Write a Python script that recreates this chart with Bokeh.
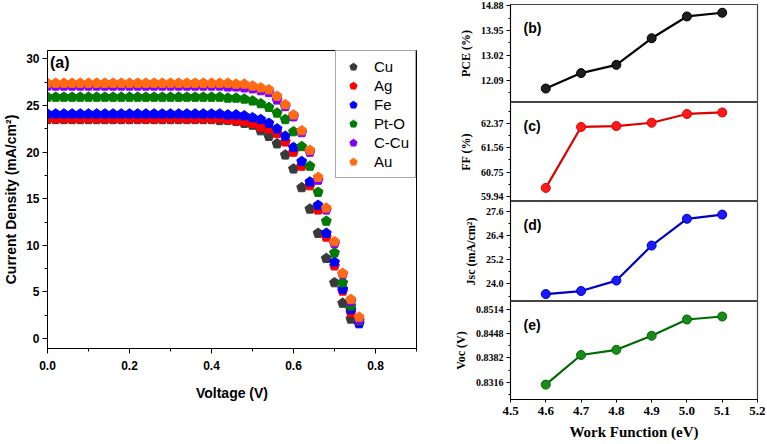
from bokeh.plotting import figure
from bokeh.layouts import row, column
from bokeh.models import (FixedTicker, PrintfTickFormatter, Label, Range1d,
                          SingleIntervalTicker, Legend, LegendItem)
from bokeh.embed import file_html
from bokeh.resources import INLINE

# ---------------- data: J-V curves (panel a) ----------------
voltage = [0.00, 0.02, 0.04, 0.06, 0.08, 0.10, 0.12, 0.14, 0.16, 0.18,
           0.20, 0.22, 0.24, 0.26, 0.28, 0.30, 0.32, 0.34, 0.36, 0.38,
           0.40, 0.42, 0.44, 0.46, 0.48, 0.50, 0.52, 0.54, 0.56, 0.58,
           0.60, 0.62, 0.64, 0.66, 0.68, 0.70, 0.72, 0.74, 0.76]

j_cu = [23.5, 23.5, 23.5, 23.5, 23.5, 23.5, 23.5, 23.5, 23.5, 23.5,
        23.5, 23.5, 23.5, 23.5, 23.5, 23.5, 23.5, 23.5, 23.5, 23.5,
        23.5, 23.4, 23.4, 23.3, 23.1, 22.9, 22.3, 21.7, 20.9, 19.7,
        18.2, 16.2, 13.9, 11.3, 8.6, 6.0, 3.8, 2.1]
j_ag = [23.6, 23.6, 23.6, 23.6, 23.6, 23.6, 23.6, 23.6, 23.6, 23.6,
        23.6, 23.6, 23.6, 23.6, 23.6, 23.6, 23.6, 23.6, 23.6, 23.6,
        23.6, 23.6, 23.5, 23.4, 23.3, 23.1, 22.7, 22.5, 22.0, 21.1,
        20.0, 18.5, 16.4, 13.8, 10.9, 7.8, 5.1, 2.8, 1.7]
j_fe = [24.1, 24.1, 24.1, 24.1, 24.1, 24.1, 24.1, 24.1, 24.1, 24.1,
        24.1, 24.1, 24.1, 24.1, 24.1, 24.1, 24.1, 24.1, 24.1, 24.1,
        24.1, 24.1, 24.0, 24.0, 23.9, 23.7, 23.5, 23.1, 22.5, 21.7,
        20.5, 19.0, 16.8, 14.3, 11.3, 8.2, 5.3, 3.1, 1.6]
j_pto = [25.9, 25.9, 25.9, 25.9, 25.9, 25.9, 25.9, 25.9, 25.9, 25.9,
         25.9, 25.9, 25.9, 25.9, 25.9, 25.9, 25.9, 25.9, 25.9, 25.9,
         25.9, 25.9, 25.8, 25.8, 25.7, 25.5, 25.2, 24.8, 24.2, 23.5,
         22.2, 20.6, 18.5, 15.7, 12.6, 9.2, 6.0, 3.5, 1.9]
j_ccu = [27.1, 27.1, 27.1, 27.1, 27.1, 27.1, 27.1, 27.1, 27.1, 27.1,
         27.1, 27.1, 27.1, 27.1, 27.1, 27.1, 27.1, 27.1, 27.1, 27.1,
         27.1, 27.1, 27.0, 27.0, 26.9, 26.8, 26.6, 26.4, 25.6, 24.9,
         23.8, 22.1, 20.0, 17.0, 13.8, 10.2, 6.9, 4.0, 2.0]
j_au = [27.4, 27.4, 27.4, 27.4, 27.4, 27.4, 27.4, 27.4, 27.4, 27.4,
        27.4, 27.4, 27.4, 27.4, 27.4, 27.4, 27.4, 27.4, 27.4, 27.4,
        27.4, 27.4, 27.4, 27.3, 27.3, 27.1, 26.9, 26.7, 26.0, 25.1,
        24.0, 22.3, 20.2, 17.3, 14.0, 10.4, 7.0, 4.2, 2.3]

series_names = ["Cu", "Ag", "Fe", "Pt-O", "C-Cu", "Au"]
series_values = [j_cu, j_ag, j_fe, j_pto, j_ccu, j_au]
series_colors = ["#3a3a3a", "#ff0000", "#0000ff", "#007a00", "#7f00ff", "#ff6a13"]

# ---------------- data: photovoltaic parameters (panels b-e) ----------------
work_function = [4.6, 4.7, 4.8, 4.9, 5.0, 5.1]
pce = [11.77, 12.35, 12.66, 13.66, 14.48, 14.62]
ff = [60.23, 62.25, 62.28, 62.39, 62.68, 62.73]
jsc = [23.50, 23.65, 24.17, 25.91, 27.24, 27.45]
voc = [0.8310, 0.8390, 0.8404, 0.8442, 0.8486, 0.8494]

pce_ticks = [12.09, 13.02, 13.95, 14.88]
ff_ticks = [59.94, 60.75, 61.56, 62.37]
jsc_ticks = [24.0, 25.2, 26.4, 27.6]
voc_ticks = [0.8316, 0.8382, 0.8448, 0.8514]
wf_ticks = [4.5, 4.6, 4.7, 4.8, 4.9, 5.0, 5.1, 5.2]

SANS = "Liberation Sans"
SERIF = "Liberation Serif"

# ---------------- panel (a) ----------------
pa = figure(width=450, height=442, output_backend="svg", toolbar_location=None,
            x_range=Range1d(0, 0.9), y_range=Range1d(-1.07, 30.9))
pa.min_border_left = 46
pa.min_border_right = 34
pa.min_border_top = 50
pa.min_border_bottom = 94
pa.grid.visible = False
pa.outline_line_color = "black"
pa.outline_line_width = 1

items = []
for name, vals, col in zip(series_names, series_values, series_colors):
    xs = voltage[:len(vals)]
    r = pa.ngon(x=xs, y=vals, radius=5.2, radius_units="screen", n=5,
                angle=0, fill_color=col, line_color=col)
    items.append(LegendItem(label=name, renderers=[r]))

legend = Legend(items=items, location="top_right")
legend.label_text_font = SANS
legend.label_text_font_size = "15px"
legend.label_text_color = "black"
legend.border_line_color = "#555555"
legend.border_line_width = 1
legend.margin = 0
legend.padding = 6
legend.spacing = 0
legend.label_height = 19
legend.glyph_height = 19
legend.glyph_width = 22
legend.label_standoff = 10
pa.add_layout(legend)

for ax in (pa.xaxis[0], pa.yaxis[0]):
    ax.axis_line_color = "black"
    ax.major_tick_line_color = "black"
    ax.minor_tick_line_color = "black"
    ax.major_tick_in = 0
    ax.major_tick_out = 5
    ax.minor_tick_in = 0
    ax.minor_tick_out = 3
    ax.major_label_text_font = SANS
    ax.major_label_text_font_style = "bold"
    ax.major_label_text_font_size = "12px"
    ax.major_label_text_color = "black"
    ax.axis_label_text_font = SANS
    ax.axis_label_text_font_style = "bold"
    ax.axis_label_text_font_size = "14px"
    ax.axis_label_text_color = "black"

pa.xaxis.ticker = SingleIntervalTicker(interval=0.2, num_minor_ticks=2)
pa.xaxis.formatter = PrintfTickFormatter(format="%.1f")
pa.xaxis.axis_label = "Voltage (V)"
pa.xaxis.major_label_standoff = 7
pa.xaxis.axis_label_standoff = 12
pa.yaxis.ticker = SingleIntervalTicker(interval=5, num_minor_ticks=2)
pa.yaxis.axis_label = "Current Density (mA/cm²)"
pa.yaxis.major_label_standoff = 3
pa.yaxis.axis_label_standoff = 4

pa.add_layout(Label(x=0.006, y=29.6, text="(a)", text_font=SANS,
                    text_font_style="bold", text_font_size="16px",
                    text_baseline="middle", text_color="black"))

# ---------------- panels (b)-(e) ----------------
panel_specs = [
    ("(b)", pce, pce_ticks, (11.245, 14.93), "%.2f", "PCE (%)", "#1e1e1e", "#000000"),
    ("(c)", ff, ff_ticks, (59.78, 63.06), "%.2f", "FF (%)", "#ff1a1a", "#dd0000"),
    ("(d)", jsc, jsc_ticks, (23.13, 28.10), "%.1f", "Jsc (mA/cm²)", "#1a1aff", "#0000c0"),
    ("(e)", voc, voc_ticks, (0.82698, 0.85346), "%.4f", "Voc (V)", "#1a8a1a", "#006a00"),
]
frame_heights = [98, 99, 100, 99]

right_figs = []
for i, (tag, vals, ticks, yr, fmt, ylab, fcol, lcol) in enumerate(panel_specs):
    first = (i == 0)
    last = (i == len(panel_specs) - 1)
    h = frame_heights[i] + (4 if first else 0) + (42 if last else 0)
    p = figure(width=315, height=h, output_backend="svg", toolbar_location=None,
               x_range=Range1d(4.5, 5.2), y_range=Range1d(*yr))
    p.min_border = 0
    p.min_border_left = 57
    p.min_border_right = 8
    p.min_border_top = 4 if first else 0
    p.min_border_bottom = 42 if last else 0
    p.grid.visible = False
    p.outline_line_color = "#444444"
    p.outline_line_width = 1.2

    p.line(work_function, vals, line_color=lcol, line_width=2.2)
    p.scatter(work_function, vals, marker="circle", size=9,
              fill_color=fcol, line_color=lcol, line_width=1)

    step = ticks[1] - ticks[0]
    minors = [t - step / 2 for t in ticks] + [ticks[-1] + step / 2]
    yax = p.yaxis[0]
    yax.ticker = FixedTicker(ticks=ticks, minor_ticks=minors)
    yax.formatter = PrintfTickFormatter(format=fmt)
    yax.axis_label = ylab
    yax.axis_label_text_font = SERIF
    yax.axis_label_text_font_style = "bold"
    yax.axis_label_text_font_size = "12px"
    yax.axis_label_text_color = "black"
    yax.axis_label_standoff = 5
    yax.major_label_text_font = SERIF
    yax.major_label_text_font_style = "bold"
    yax.major_label_text_font_size = "10px"
    yax.major_label_text_color = "black"
    yax.major_label_standoff = 3
    yax.major_tick_in = 0
    yax.major_tick_out = 4
    yax.minor_tick_in = 0
    yax.minor_tick_out = 2
    yax.axis_line_color = "black"

    xax = p.xaxis[0]
    if last:
        xax.ticker = FixedTicker(ticks=wf_ticks)
        xax.formatter = PrintfTickFormatter(format="%.1f")
        xax.axis_label = "Work Function (eV)"
        xax.axis_label_text_font = SERIF
        xax.axis_label_text_font_style = "bold"
        xax.axis_label_text_font_size = "15px"
        xax.axis_label_text_color = "black"
        xax.axis_label_standoff = 6
        xax.major_label_text_font = SERIF
        xax.major_label_text_font_style = "bold"
        xax.major_label_text_font_size = "13px"
        xax.major_label_text_color = "black"
        xax.major_label_standoff = 4
        xax.major_tick_in = 0
        xax.major_tick_out = 3
        xax.minor_tick_line_color = None
        xax.axis_line_color = "black"
    else:
        xax.visible = False

    ytop, ybot = yr[1], yr[0]
    p.add_layout(Label(x=4.537, y=ytop - 0.235 * (ytop - ybot), text=tag,
                       text_font=SANS, text_font_style="bold",
                       text_font_size="14px", text_baseline="middle",
                       text_color="black"))
    right_figs.append(p)

layout = row(pa, column(*right_figs))

open("out.html", "w").write(file_html(layout, INLINE))
